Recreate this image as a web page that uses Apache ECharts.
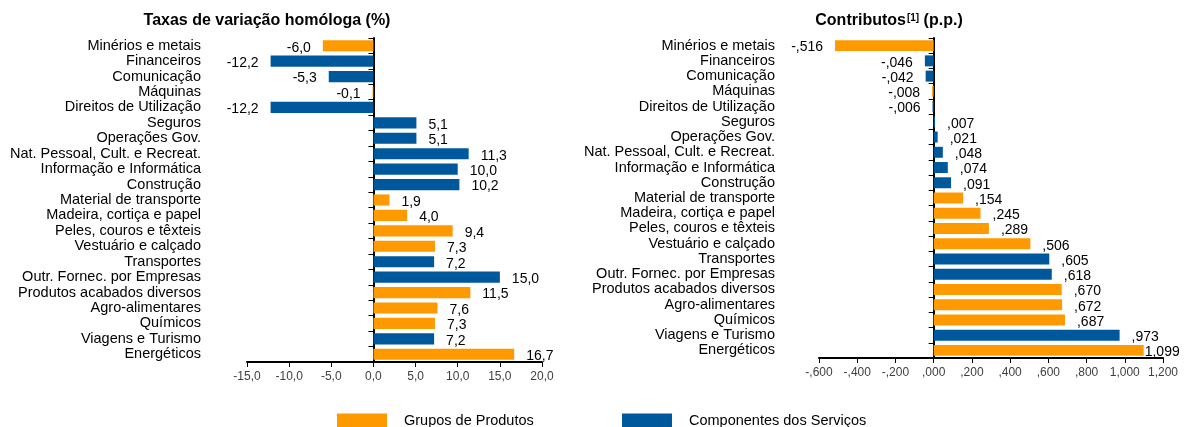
<!DOCTYPE html>
<html>
<head>
<meta charset="utf-8">
<script src="https://cdn.jsdelivr.net/npm/echarts@6/dist/echarts.min.js"></script>
<style>
  html, body { margin: 0; padding: 0; background: #fff; }
  #chart { width: 1188px; height: 427px; }
</style>
</head>
<body>
<div id="chart"></div>
<script>
// categorias (de cima para baixo)
const categories = [
  'Minérios e metais', 'Financeiros', 'Comunicação', 'Máquinas', 'Direitos de Utilização',
  'Seguros', 'Operações Gov.', 'Nat. Pessoal, Cult. e Recreat.', 'Informação e Informática', 'Construção',
  'Material de transporte', 'Madeira, cortiça e papel', 'Peles, couros e têxteis', 'Vestuário e calçado', 'Transportes',
  'Outr. Fornec. por Empresas', 'Produtos acabados diversos', 'Agro-alimentares', 'Químicos', 'Viagens e Turismo',
  'Energéticos'
]
// P = grupos de produtos, S = componentes dos serviços
const groupType = [
  'P', 'S', 'S', 'P', 'S',
  'S', 'S', 'S', 'S', 'S',
  'P', 'P', 'P', 'P', 'S',
  'S', 'P', 'P', 'P', 'S',
  'P'
]
// taxas de variação homóloga (%)
const taxas = [
  -6.0, -12.2, -5.3, -0.1, -12.2,
  5.1, 5.1, 11.3, 10.0, 10.2,
  1.9, 4.0, 9.4, 7.3, 7.2,
  15.0, 11.5, 7.6, 7.3, 7.2,
  16.7
]
// contributos (p.p.)
const contributos = [
  -0.516, -0.046, -0.042, -0.008, -0.006,
  0.007, 0.021, 0.048, 0.074, 0.091,
  0.154, 0.245, 0.289, 0.506, 0.605,
  0.618, 0.670, 0.672, 0.687, 0.973,
  1.099
]
const taxasTicks = { min: -15, max: 20, interval: 5 }
const contribTicks = { min: -0.6, max: 1.2, interval: 0.2 }

const seriesNames = { P: 'Grupos de Produtos', S: 'Componentes dos Serviços' }
const colors = { P: '#ff9900', S: '#00589c' }

const FONT = 'Liberation Sans, Arial, sans-serif'
const NARROW = 'Liberation Sans Narrow, Arial Narrow, Liberation Sans, sans-serif'

function fmt1(v) {
  return v.toFixed(1).replace('.', ',')
}
function fmt3(v) {
  const a = Math.abs(v)
  const s = a.toFixed(3).split('.')
  const ip = s[0] === '0' ? '' : s[0]
  return (v < 0 && a >= 0.0005 ? '-' : '') + ip + ',' + s[1]
}

function buildSeries(values, type, idx, fmt) {
  return {
    name: seriesNames[type],
    type: 'bar',
    stack: 'tot' + idx,
    xAxisIndex: idx,
    yAxisIndex: idx * 2,
    barCategoryGap: '28%',
    itemStyle: { color: colors[type] },
    label: {
      show: true,
      color: '#000',
      fontFamily: FONT,
      fontSize: 14,
      offset: [0, 2],
      formatter: (p) => fmt(p.value)
    },
    data: values.map((v, i) => {
      if (groupType[i] !== type) return '-'
      const item = { value: v, label: { position: v < 0 ? 'left' : 'right', distance: 12 } }
      // Excel encosta o último rótulo para caber na área
      if (idx === 1 && v > 1.05) item.label.distance = 1
      return item
    })
  }
}

function valueAxis(idx, ticks, fmt) {
  return {
    type: 'value',
    gridIndex: idx,
    min: ticks.min,
    max: ticks.max,
    interval: ticks.interval,
    axisLine: { show: true, onZero: false, lineStyle: { color: '#000', width: 2 } },
    axisTick: { show: true, length: 5, lineStyle: { color: '#000', width: 1 } },
    splitLine: { show: false },
    axisLabel: {
      color: '#404040',
      fontFamily: NARROW,
      fontSize: 12,
      margin: 9,
      formatter: (v) => fmt(Math.round(v * 1000) / 1000)
    }
  }
}

function labelAxis(idx, margin) {
  return {
    type: 'category',
    gridIndex: idx,
    inverse: true,
    data: categories,
    axisLine: { show: false, onZero: false },
    axisTick: { show: false },
    axisLabel: { interval: 0, color: '#000', fontFamily: FONT, fontSize: 14.5, margin: margin }
  }
}

function lineAxis(idx) {
  return {
    type: 'category',
    gridIndex: idx,
    inverse: true,
    position: 'left',
    data: categories,
    axisLine: { show: true, onZero: true, lineStyle: { color: '#000', width: 2 } },
    axisTick: { show: true, interval: 0, length: 5, lineStyle: { color: '#000', width: 1 } },
    axisLabel: { show: false, interval: 0 }
  }
}

const chart = echarts.init(document.getElementById('chart'))
chart.setOption({
  animation: false,
  backgroundColor: '#fff',
  title: [
    {
      text: 'Taxas de variação homóloga (%)',
      left: 267,
      top: 13,
      padding: 0,
      textAlign: 'center',
      textStyle: { fontFamily: FONT, fontSize: 16, fontWeight: 'bold', color: '#000' }
    },
    {
      text: '{a|Contributos}{sup|[1]}{a| (p.p.)}',
      left: 889,
      top: 13,
      padding: 0,
      textAlign: 'center',
      textStyle: {
        rich: {
          a: { fontFamily: FONT, fontSize: 16, fontWeight: 'bold', color: '#000' },
          sup: { fontFamily: FONT, fontSize: 10, fontWeight: 'bold', color: '#000', verticalAlign: 'top', padding: [0, 0, 6, 1] }
        }
      }
    }
  ],
  legend: [
    {
      data: [seriesNames.P],
      left: 337,
      top: 413,
      padding: 0,
      icon: 'rect',
      itemWidth: 50,
      itemHeight: 14,
      textStyle: { fontFamily: FONT, fontSize: 14.5, color: '#000', padding: [0, 0, 0, 12] }
    },
    {
      data: [seriesNames.S],
      left: 622,
      top: 413,
      padding: 0,
      icon: 'rect',
      itemWidth: 50,
      itemHeight: 14,
      textStyle: { fontFamily: FONT, fontSize: 14.5, color: '#000', padding: [0, 0, 0, 12] }
    }
  ],
  grid: [
    { left: 247, top: 38, width: 295, height: 324 },
    { left: 819, top: 38, width: 344, height: 320 }
  ],
  xAxis: [
    valueAxis(0, taxasTicks, fmt1),
    valueAxis(1, contribTicks, fmt3)
  ],
  yAxis: [
    labelAxis(0, 46),
    lineAxis(0),
    labelAxis(1, 44),
    lineAxis(1)
  ],
  series: [
    buildSeries(taxas, 'P', 0, fmt1),
    buildSeries(taxas, 'S', 0, fmt1),
    buildSeries(contributos, 'P', 1, fmt3),
    buildSeries(contributos, 'S', 1, fmt3)
  ]
})
</script>
</body>
</html>
